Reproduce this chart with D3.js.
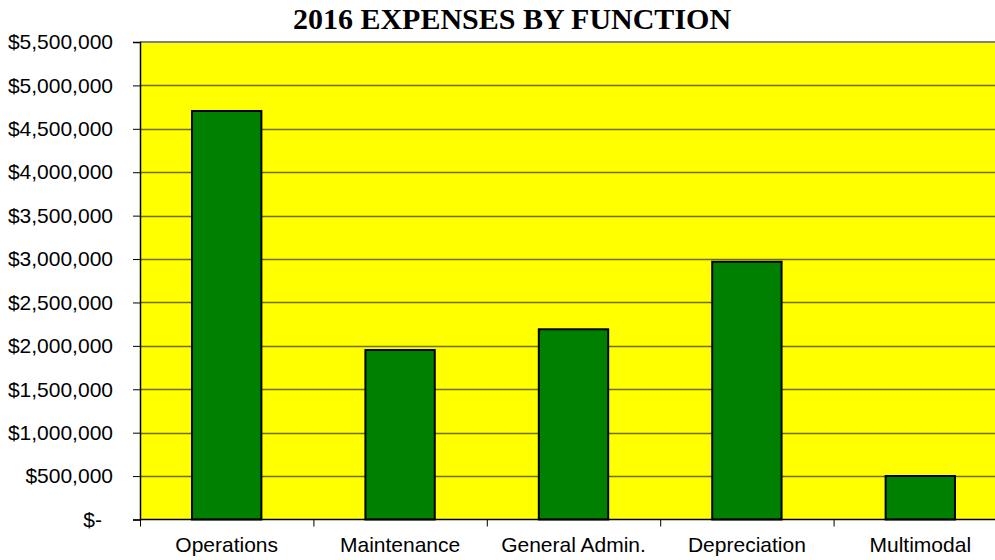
<!DOCTYPE html>
<html>
<head>
<meta charset="utf-8">
<script src="https://cdn.jsdelivr.net/npm/d3@7"></script>
<style>
  body { margin: 0; background: #fff; }
</style>
</head>
<body>
<div id="chart"></div>
<script>
// data
var categories = ["Operations", "Maintenance", "General Admin.", "Depreciation", "Multimodal"];
var expenses = [4705000, 1952000, 2191000, 2969000, 501000];
var yTicks = [0, 500000, 1000000, 1500000, 2000000, 2500000, 3000000, 3500000, 4000000, 4500000, 5000000, 5500000];

// set dimensions
var width = 995, height = 560;
var margin = {top: 42, left: 140, bottom: 40};
var plotW = 867; // runs past the right edge, like the original
var plotH = height - margin.top - margin.bottom - 0.5;

var svg = d3.select("#chart")
            .append("svg")
            .attr("width", width)
            .attr("height", height);

var x = d3.scaleBand()
          .domain(categories)
          .range([margin.left, margin.left + plotW])
          .paddingInner(0.6)
          .paddingOuter(0.3);

var y = d3.scaleLinear()
          .domain([0, 5500000])
          .range([margin.top + plotH, margin.top]);

var fmt = d3.format(",.0f");

// yellow plot area
svg.append("rect")
   .attr("x", margin.left)
   .attr("y", margin.top)
   .attr("width", plotW)
   .attr("height", plotH)
   .attr("fill", "#ffff00");

// gridlines
svg.append("g")
   .selectAll("line")
   .data(yTicks.filter(function(d){ return d > 0 && d < 5500000; }))
   .enter().append("line")
   .attr("x1", margin.left)
   .attr("x2", margin.left + plotW)
   .attr("y1", function(d){ return Math.round(y(d)) + 0.5; })
   .attr("y2", function(d){ return Math.round(y(d)) + 0.5; })
   .attr("stroke", "#6e6e00")
   .attr("stroke-width", 1.5);

// top border
svg.append("line")
   .attr("x1", margin.left)
   .attr("x2", margin.left + plotW)
   .attr("y1", margin.top)
   .attr("y2", margin.top)
   .attr("stroke", "#808080")
   .attr("stroke-width", 2);

// bars
svg.append("g")
   .selectAll("rect")
   .data(expenses)
   .enter().append("rect")
   .attr("x", function(d, i){ return x(categories[i]); })
   .attr("y", function(d){ return y(d); })
   .attr("width", x.bandwidth())
   .attr("height", function(d){ return y(0) - y(d); })
   .attr("fill", "#008000")
   .attr("stroke", "#000")
   .attr("stroke-width", 2);

// y axis
var yAxis = d3.axisLeft(y)
              .tickValues(yTicks)
              .tickSize(7)
              .tickPadding(20)
              .tickFormat(function(d){ return d === 0 ? "$-" : "$" + fmt(d); });

var gy = svg.append("g")
            .attr("transform", "translate(" + margin.left + ",0)")
            .call(yAxis);
gy.select(".domain").attr("stroke", "#000").attr("stroke-width", 1.5);
gy.selectAll(".tick line").attr("stroke", "#000");
gy.selectAll("text")
  .attr("font-family", "Liberation Sans, Arial, sans-serif")
  .attr("font-size", "21px")
  .attr("fill", "#000");
gy.selectAll(".tick")
  .filter(function(d){ return d === 0; })
  .select("text")
  .attr("x", -38);

// x axis
var xAxis = d3.axisBottom(d3.scaleLinear().domain([0, 5]).range([margin.left, margin.left + plotW]))
              .tickValues([0, 1, 2, 3, 4, 5])
              .tickSize(7)
              .tickFormat("");
var gx = svg.append("g")
            .attr("transform", "translate(0," + y(0) + ")")
            .call(xAxis);
gx.select(".domain").attr("stroke", "#000").attr("stroke-width", 1.5).attr("d", "M" + margin.left + ",0H" + (margin.left + plotW));
gx.selectAll(".tick line").attr("stroke", "#000");

// category labels
svg.append("g")
   .selectAll("text")
   .data(categories)
   .enter().append("text")
   .attr("x", function(d){ return x(d) + x.bandwidth() / 2; })
   .attr("y", y(0) + 32)
   .attr("text-anchor", "middle")
   .attr("font-family", "Liberation Sans, Arial, sans-serif")
   .attr("font-size", "21px")
   .text(function(d){ return d; });

// title
svg.append("text")
   .attr("x", 512)
   .attr("y", 29)
   .attr("text-anchor", "middle")
   .attr("font-family", "Liberation Serif, Times New Roman, serif")
   .attr("font-weight", "bold")
   .attr("font-size", "30px")
   .text("2016 EXPENSES BY FUNCTION");
</script>
</body>
</html>
